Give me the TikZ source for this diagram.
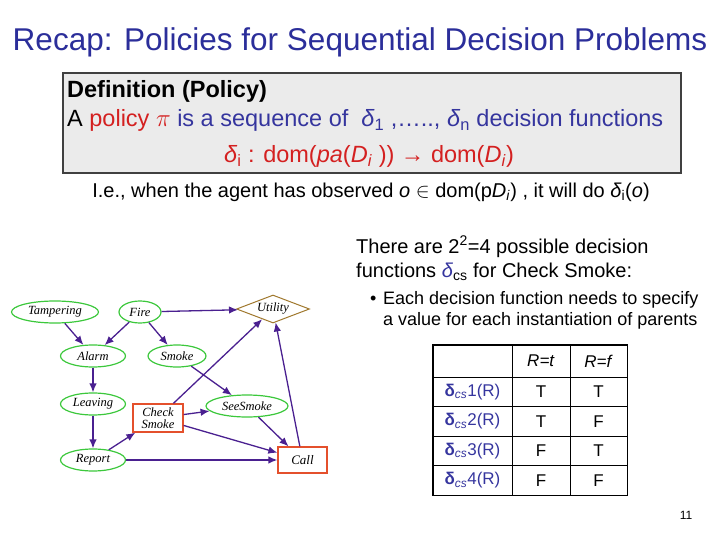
\documentclass[tikz,border=0pt]{standalone}
\usepackage{fontspec}
\setmainfont{Liberation Sans}
\newfontfamily\netfont{Liberation Serif}
\usepackage{tikz}
\usetikzlibrary{positioning,arrows.meta,shapes.geometric}
\definecolor{DNtitle}{HTML}{2B2E9A}
\definecolor{DNblue}{HTML}{35359E}
\definecolor{DNred}{HTML}{D42020}
\definecolor{DNgreen}{HTML}{3CC83C}
\definecolor{DNbox}{HTML}{E4502C}
\definecolor{DNbrown}{HTML}{A0782D}
\definecolor{DNpurple}{HTML}{4A2090}
\definecolor{DNgrey}{HTML}{EBEBEB}
\definecolor{DNframe}{HTML}{404040}
\newcommand{\fsize}[1]{\fontsize{#1}{#1}\selectfont}
\newcommand{\lowidx}[1]{\textsubscript{#1}}
\tikzset{
  chancenode/.style={ellipse, draw=DNgreen, line width=1.2pt, fill=white, inner sep=0pt, minimum height=22pt, font=\netfont\itshape\fsize{12.5}},
  decisionnode/.style={rectangle, draw=DNbox, line width=1.3pt, fill=white, inner sep=0pt, align=center, font=\netfont\itshape\fsize{13}},
  utilitynode/.style={diamond, draw=DNbrown, line width=1pt, fill=white, inner sep=0pt, shape aspect=2.6, minimum width=73pt, minimum height=28pt, font=\netfont\itshape\fsize{12.5}},
  infarr/.style={-{Latex[length=9pt,width=7.5pt]}, line width=1.3pt, draw=DNpurple},
  defbox/.style={rectangle, draw=DNframe, line width=2pt, fill=DNgrey, inner sep=0pt},
  slidetext/.style={inner sep=0pt},
  cellbox/.style={rectangle, draw=black, line width=0.8pt, inner sep=0pt, font=\fsize{17}}
}

\begin{document}
\begin{tikzpicture}[x=1pt,y=-1pt]
\useasboundingbox (0,0) rectangle (720,540);
% title
\node[slidetext, anchor=base, font=\fsize{31.5}, text=DNtitle] (title) at (360,51) {Recap: Policies for Sequential Decision Problems};
% definition
\node[defbox, anchor=north west, minimum width=618pt, minimum height=100pt] (defbox) at (62,72) {};
\node[slidetext, anchor=base west, font=\bfseries\fsize{23.5}] (deftitle) at (67,97.5) {Definition (Policy)};
\node[slidetext, anchor=base west, font=\fsize{23.5}] (defline) at (67,127) {A \textcolor{DNred}{policy \ensuremath{\pi}} \textcolor{DNblue}{is a sequence of \ \textit{δ}\lowidx{1} ,….., \textit{δ}\lowidx{n} decision functions}};
\node[slidetext, anchor=base, font=\fsize{23.5}, text=DNred] (defmap) at (369,163) {\textit{δ}\lowidx{i} : dom(\textit{pa}(\textit{D}\lowidx{\textit{i}} )) → dom(\textit{D}\lowidx{\textit{i}})};
\node[slidetext, anchor=base, font=\fsize{20}] (ieline) at (371,197) {I.e., when the agent has observed \textit{o} \ensuremath{\in} dom(p\textit{D}\lowidx{\textit{i}}) , it will do \textit{δ}\lowidx{i}(\textit{o})};
% right hand text
\node[slidetext, anchor=base west, font=\fsize{20}] (there) at (356,253) {There are 2\textsuperscript{2}=4 possible decision};
\node[slidetext, anchor=base west, font=\fsize{20}] (funcs) at (356,277) {functions \textcolor{DNblue}{\textit{δ}}\lowidx{cs} for Check Smoke:};
\node[slidetext, anchor=base west, font=\fsize{18}] (bullet) at (370,304.5) {•};
\node[slidetext, anchor=base west, font=\fsize{18}] (need1) at (383,304.5) {Each decision function needs to specify};
\node[slidetext, anchor=base west, font=\fsize{18}] (need2) at (383,325.5) {a value for each instantiation of parents};
% decision network
\node[chancenode, minimum width=87pt] (tamp) at (55,312) {Tampering};
\node[chancenode, minimum width=42pt] (fire) at (140,312) {Fire};
\node[utilitynode] (util) at (273,309) {Utility};
\node[chancenode, minimum width=65pt] (alarm) at (93,356) {Alarm};
\node[chancenode, minimum width=58pt] (smoke) at (177,356) {Smoke};
\node[chancenode, minimum width=65pt] (leave) at (93,404) {Leaving};
\node[decisionnode, minimum width=50pt, minimum height=28pt, font=\netfont\itshape\fontsize{12.5}{12.5}\selectfont] (check) at (158,418) {Check\\Smoke};
\node[chancenode, minimum width=82pt] (see) at (247,406) {SeeSmoke};
\node[chancenode, minimum width=65pt] (report) at (93,460) {Report};
\node[decisionnode, minimum width=49pt, minimum height=26pt] (call) at (302.5,460) {Call};
\draw[infarr] (tamp) -- (alarm);
\draw[infarr] (fire) -- (alarm);
\draw[infarr] (fire) -- (smoke);
\draw[infarr] (fire) -- (util);
\draw[infarr] (alarm) -- (leave);
\draw[infarr] (leave) -- (report);
\draw[infarr] (smoke) -- (see);
\draw[infarr] (report) -- (check);
\draw[infarr] (report) -- (call);
\draw[infarr] (check) -- (see);
\draw[infarr] (check) -- (util);
\draw[infarr] (check) -- (call);
\draw[infarr] (see) -- (call);
\draw[infarr] (call) -- (util);
% table of decision functions
\node[cellbox, minimum width=79pt, minimum height=32pt] (r0c1) at (472.5,361) {};
\node[cellbox, minimum width=58pt, minimum height=32pt] (r0c2) at (541,361) {\textit{R=t}};
\node[cellbox, minimum width=57pt, minimum height=32pt] (r0c3) at (598.5,361) {\textit{R=f}};
\foreach \k/\a/\b in {1/T/T,2/T/F,3/F/T,4/F/F}{
  \node[cellbox, minimum width=79pt, minimum height=29.5pt, text=DNblue] (r\k c1) at (472.5,377+29.5*\k-14.75) {\textbf{δ}\lowidx{\textit{cs}}\k(R)};
  \node[cellbox, minimum width=58pt, minimum height=29.5pt] (r\k c2) at (541,377+29.5*\k-14.75) {\a};
  \node[cellbox, minimum width=57pt, minimum height=29.5pt] (r\k c3) at (598.5,377+29.5*\k-14.75) {\b};
}
\draw[line width=1.8pt] (r0c1.north west) rectangle (r4c3.south east);
% page number
\node[font=\fsize{12}] (pagenum) at (686,515) {11};
\end{tikzpicture}
\end{document}
